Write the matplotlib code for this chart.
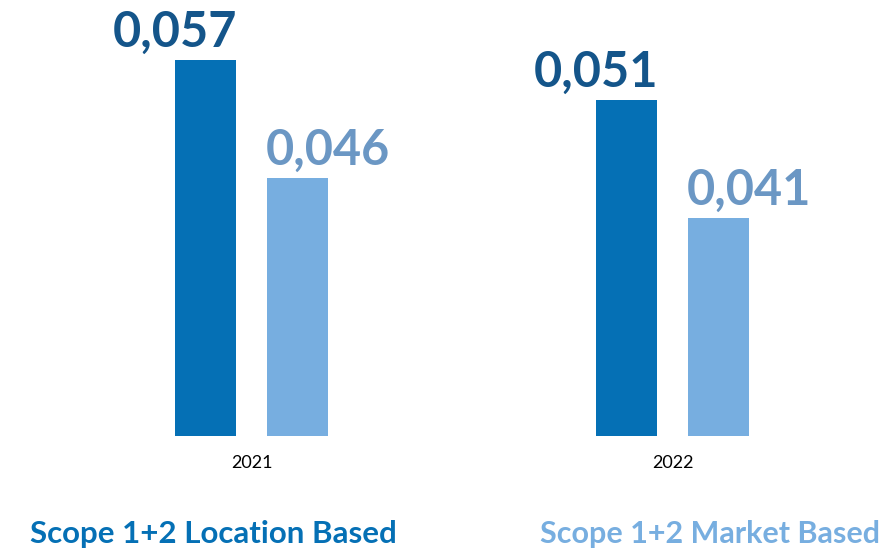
import matplotlib.pyplot as plt
import numpy as np

years = ["2021", "2022"]
location_based = [0.057, 0.051]
market_based = [0.046, 0.041]
labels_location = ["0,057", "0,051"]
labels_market = ["0,046", "0,041"]

DARK = "#0570b5"
LIGHT = "#77aee0"
DARK_TXT = "#14558a"
LIGHT_TXT = "#6b97c4"

plt.rcParams["font.family"] = ["Lato", "DejaVu Sans"]


def main() -> None:
    fig = plt.figure(figsize=(8.96, 5.53), dpi=100)
    ax = fig.add_axes([0, 0.2116, 1, 0.7884])
    ax2 = ax.twinx()

    x = np.arange(len(years))
    w = 0.1449
    off = 0.1093

    ax.bar(x - off, location_based, width=w, color=DARK)
    ax2.bar(x + off, market_based, width=w, color=LIGHT)

    ax.set_xlim(-0.5974, 1.5309)
    ax.set_ylim(0, 0.06616)
    ax2.set_ylim(0.0137, 0.0682)

    for xi, v, lab in zip(x, location_based, labels_location):
        ax.annotate(lab, xy=(xi - off + w / 2, v), xytext=(1, 9.5), textcoords="offset points",
                    ha="right", va="baseline", fontsize=35, fontweight="bold", color=DARK_TXT)
    for xi, v, lab in zip(x, market_based, labels_market):
        ax2.annotate(lab, xy=(xi + off - w / 2, v), xytext=(-1, 9.5), textcoords="offset points",
                     ha="left", va="baseline", fontsize=35, fontweight="bold", color=LIGHT_TXT)

    ax.set_xticks(x)
    ax.set_xticklabels(years, fontsize=13, color="black")
    ax.tick_params(axis="x", length=0, pad=14)
    ax.set_yticks([])
    ax2.set_yticks([])
    for a in (ax, ax2):
        for s in a.spines.values():
            s.set_visible(False)

    fig.text(30 / 896, 0.034, "Scope 1+2 Location Based", color=DARK, fontsize=22.5,
             fontweight="bold", ha="left", va="center")
    fig.text(540 / 896, 0.034, "Scope 1+2 Market Based", color=LIGHT, fontsize=22,
             fontweight="bold", ha="left", va="center")

    fig.savefig("out.png", dpi=100)


if __name__ == "__main__":
    main()
